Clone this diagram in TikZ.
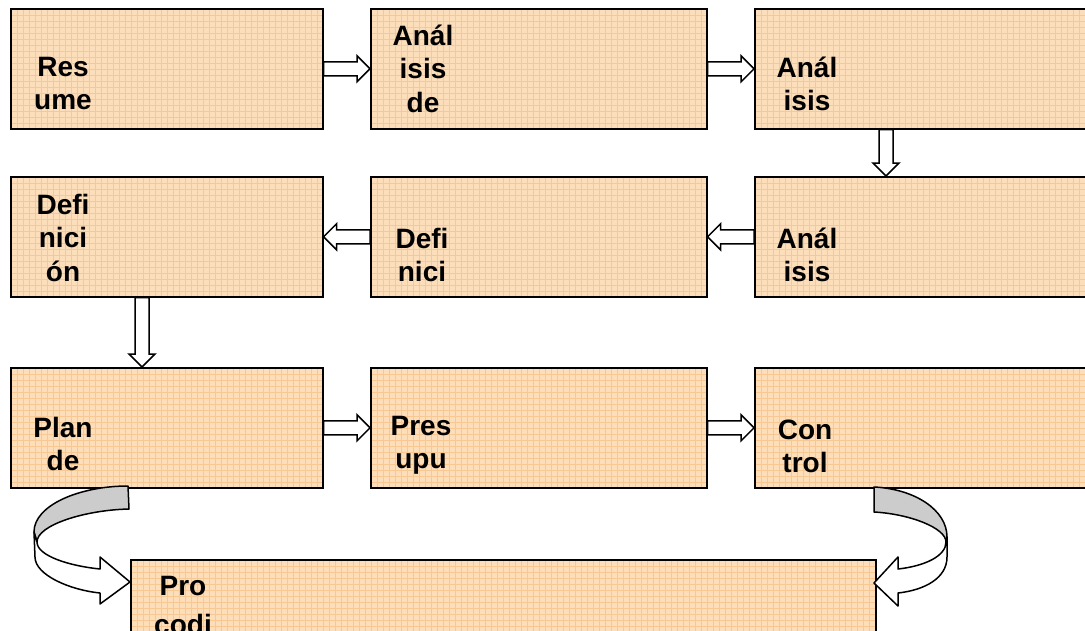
\documentclass[tikz,border=0pt]{standalone}
\usepackage{fontspec}
\setmainfont{Liberation Sans}
\usetikzlibrary{calc}

\definecolor{boxfill}{RGB}{253,222,186}
\definecolor{boxgrid}{RGB}{249,200,146}
\definecolor{bandgray}{RGB}{204,204,204}

\tikzset{
  stage/.style={draw=black, line width=1.6pt, fill=boxfill, rectangle, inner sep=0pt,
    anchor=north west,
    path picture={\draw[boxgrid, line width=0.5pt]
      (path picture bounding box.south west) grid[step=6pt]
      (path picture bounding box.north east);}},
  stagetext/.style={inner sep=0pt, anchor=base,
    font=\fontsize{28}{33.5}\selectfont\bfseries},
  blk/.style={draw=black, line width=1.5pt, fill=white, line join=miter},
  band/.style={draw=black, line width=1.5pt, line join=round},
}

% straight block arrow from #1 to the tip at #2
\newcommand\blockarrow[2]{%
  \path (#1) coordinate (ba-s) (#2) coordinate (ba-e);
  \path ($(ba-e)!13pt!(ba-s)$) coordinate (ba-h);
  \draw[blk] ($(ba-s)!7pt!90:(ba-e)$) -- ($(ba-h)!7pt!-90:(ba-s)$)
    -- ($(ba-h)!13pt!-90:(ba-s)$) -- (ba-e) -- ($(ba-h)!13pt!90:(ba-s)$)
    -- ($(ba-h)!7pt!90:(ba-s)$) -- ($(ba-s)!7pt!-90:(ba-e)$) -- cycle;}

\newcommand\stacked[1]{\begin{tabular}[t]{@{}c@{}}#1\end{tabular}}

\begin{document}
\begin{tikzpicture}[x=1pt, y=-1pt]
\useasboundingbox (0,0) rectangle (1085,630);
\clip (0,0) rectangle (1085,630);
\fill[white] (0,0) rectangle (1085,630);

% stage boxes
\node[stage, minimum width=312pt, minimum height=120pt] (b1) at (10,8) {};
\node[stage, minimum width=336pt, minimum height=120pt] (b2) at (370,8) {};
\node[stage, minimum width=360pt, minimum height=120pt] (b3) at (754,8) {};
\node[stage, minimum width=312pt, minimum height=120pt] (b4) at (10,176) {};
\node[stage, minimum width=336pt, minimum height=120pt] (b5) at (370,176) {};
\node[stage, minimum width=360pt, minimum height=120pt] (b6) at (754,176) {};
\node[stage, minimum width=312pt, minimum height=120pt] (b7) at (10,367) {};
\node[stage, minimum width=336pt, minimum height=120pt] (b8) at (370,367) {};
\node[stage, minimum width=360pt, minimum height=120pt] (b9) at (754,367) {};
\node[stage, minimum width=745pt, minimum height=120pt] (b10) at (130,559) {};

% box texts
\node[stagetext] (t1) at ($(b1.north west)+(53,68)$) {\stacked{Res\\ume}};
\node[stagetext] (t2) at ($(b2.north west)+(53,37)$) {\stacked{Anál\\isis\\de}};
\node[stagetext] (t3) at ($(b3.north west)+(53,69)$) {\stacked{Anál\\isis}};
\node[stagetext] (t4) at ($(b4.north west)+(53,38)$) {\stacked{Defi\\nici\\ón}};
\node[stagetext] (t5) at ($(b5.north west)+(52,72)$) {\stacked{Defi\\nici}};
\node[stagetext] (t6) at ($(b6.north west)+(53,72)$) {\stacked{Anál\\isis}};
\node[stagetext] (t7) at ($(b7.north west)+(53,70)$) {\stacked{Plan\\de}};
\node[stagetext] (t8) at ($(b8.north west)+(51,68)$) {\stacked{Pres\\upu}};
\node[stagetext] (t9) at ($(b9.north west)+(51,72)$) {\stacked{Con\\trol}};
\node[stagetext] (t10) at ($(b10.north west)+(53,36)$)
  {\stacked{Pro\\[6pt]codi}};

% straight connectors
\blockarrow{b1.east}{b2.west}
\blockarrow{b2.east}{b3.west}
\blockarrow{$(b3.south west)+(132,0)$}{$(b6.north west)+(132,0)$}
\blockarrow{b6.west}{b5.east}
\blockarrow{b5.west}{b4.east}
\blockarrow{$(b4.south west)+(132,0)$}{$(b7.north west)+(132,0)$}
\blockarrow{b7.east}{b8.west}
\blockarrow{b8.east}{b9.west}

% curved connector, left side
\draw[band, fill=bandgray] (128,486) .. controls (80,486) and (34,505) .. (34,532)
  -- (37,542) .. controls (37,525) and (85,510) .. (129,509) -- cycle;
\draw[band, fill=white] (34,532) -- (35,557) .. controls (35,575) and (70,590) .. (100,593)
  -- (100,604) -- (130,582) -- (100,557) -- (100,569)
  .. controls (70,566) and (37,556) .. (37,542) -- cycle;

% curved connector, right side
\draw[band, fill=bandgray] (874,487) .. controls (915,489) and (947,510) .. (947,537)
  -- (946,542) .. controls (946,528) and (910,514) .. (874,512) -- cycle;
\draw[band, fill=white] (947,537) -- (947,557) .. controls (947,578) and (925,590) .. (898,593)
  -- (898,606) -- (874,583) -- (898,557) -- (898,569)
  .. controls (925,566) and (946,556) .. (946,542) -- cycle;
\end{tikzpicture}
\end{document}
